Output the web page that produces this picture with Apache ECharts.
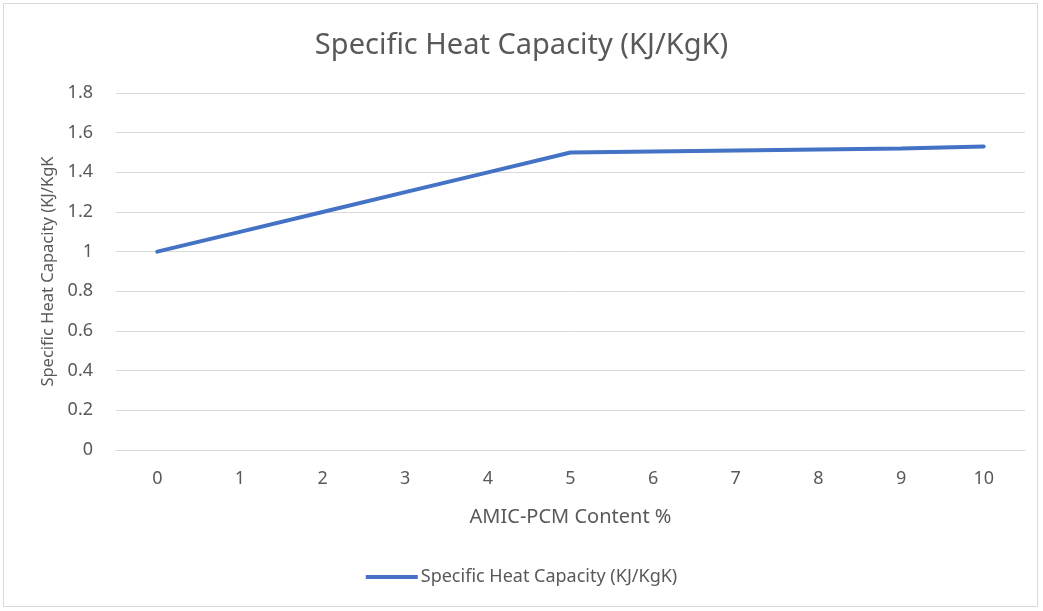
<!DOCTYPE html>
<html>
<head>
<meta charset="utf-8">
<script src="https://cdn.jsdelivr.net/npm/echarts@6/dist/echarts.min.js"></script>
<style>
  html, body { margin: 0; padding: 0; background: #fff; }
  #frame {
    position: absolute; left: 3px; top: 3px; width: 1035px; height: 604px;
    border: 1px solid #d9d9d9; box-sizing: border-box;
  }
  #chart { position: absolute; left: 0; top: 0; width: 1043px; height: 611px; }
</style>
</head>
<body>
<div id="frame"></div>
<div id="chart"></div>
<script>
  const titleText = 'Specific Heat Capacity (KJ/KgK)';
  const seriesName = 'Specific Heat Capacity (KJ/KgK)';
  const categories = ['0', '1', '2', '3', '4', '5', '6', '7', '8', '9', '10'];
  const heatCapacity = [1.0, 1.1, 1.2, 1.3, 1.4, 1.5, 1.505, 1.51, 1.515, 1.52, 1.53];

  const font = "'Noto Sans', sans-serif";
  const textColor = '#595959';

  const chart = echarts.init(document.getElementById('chart'));
  chart.setOption({
    backgroundColor: 'transparent',
    textStyle: { fontFamily: font },
    title: {
      text: titleText,
      left: 'center',
      top: 26,
      textStyle: { fontSize: 29, fontWeight: 'normal', color: textColor, fontFamily: font },
    },
    grid: { left: 116, right: 18, top: 93, bottom: 161 },
    legend: {
      bottom: 20,
      left: 'center',
      itemWidth: 52,
      itemHeight: 4,
      itemGap: 0,
      icon: 'rect',
      textStyle: { fontSize: 18, color: textColor, fontFamily: font, padding: [0, 0, 0, -2] },
      data: [seriesName],
    },
    xAxis: {
      type: 'category',
      data: categories,
      boundaryGap: true,
      name: 'AMIC-PCM Content %',
      nameLocation: 'middle',
      nameGap: 57,
      nameTextStyle: { fontSize: 20, color: textColor },
      axisLine: { lineStyle: { color: '#d9d9d9', width: 1 } },
      axisTick: { show: false },
      axisLabel: { color: textColor, fontSize: 18, margin: 20 },
    },
    yAxis: {
      type: 'value',
      min: 0,
      max: 1.8,
      interval: 0.2,
      name: 'Specific Heat Capacity (KJ/KgK',
      nameLocation: 'middle',
      nameGap: 58,
      nameTextStyle: { fontSize: 16.5, color: textColor },
      axisLine: { show: false },
      axisTick: { show: false },
      axisLabel: {
        color: textColor,
        fontSize: 18,
        margin: 23,
        formatter: (v) => String(Math.round(v * 10) / 10),
      },
      splitLine: { lineStyle: { color: '#d9d9d9', width: 1 } },
    },
    series: [
      {
        name: seriesName,
        type: 'line',
        data: heatCapacity,
        symbol: 'none',
        lineStyle: { color: '#4472c4', width: 4, cap: 'round' },
        itemStyle: { color: '#4472c4' },
      },
    ],
  });
</script>
</body>
</html>
